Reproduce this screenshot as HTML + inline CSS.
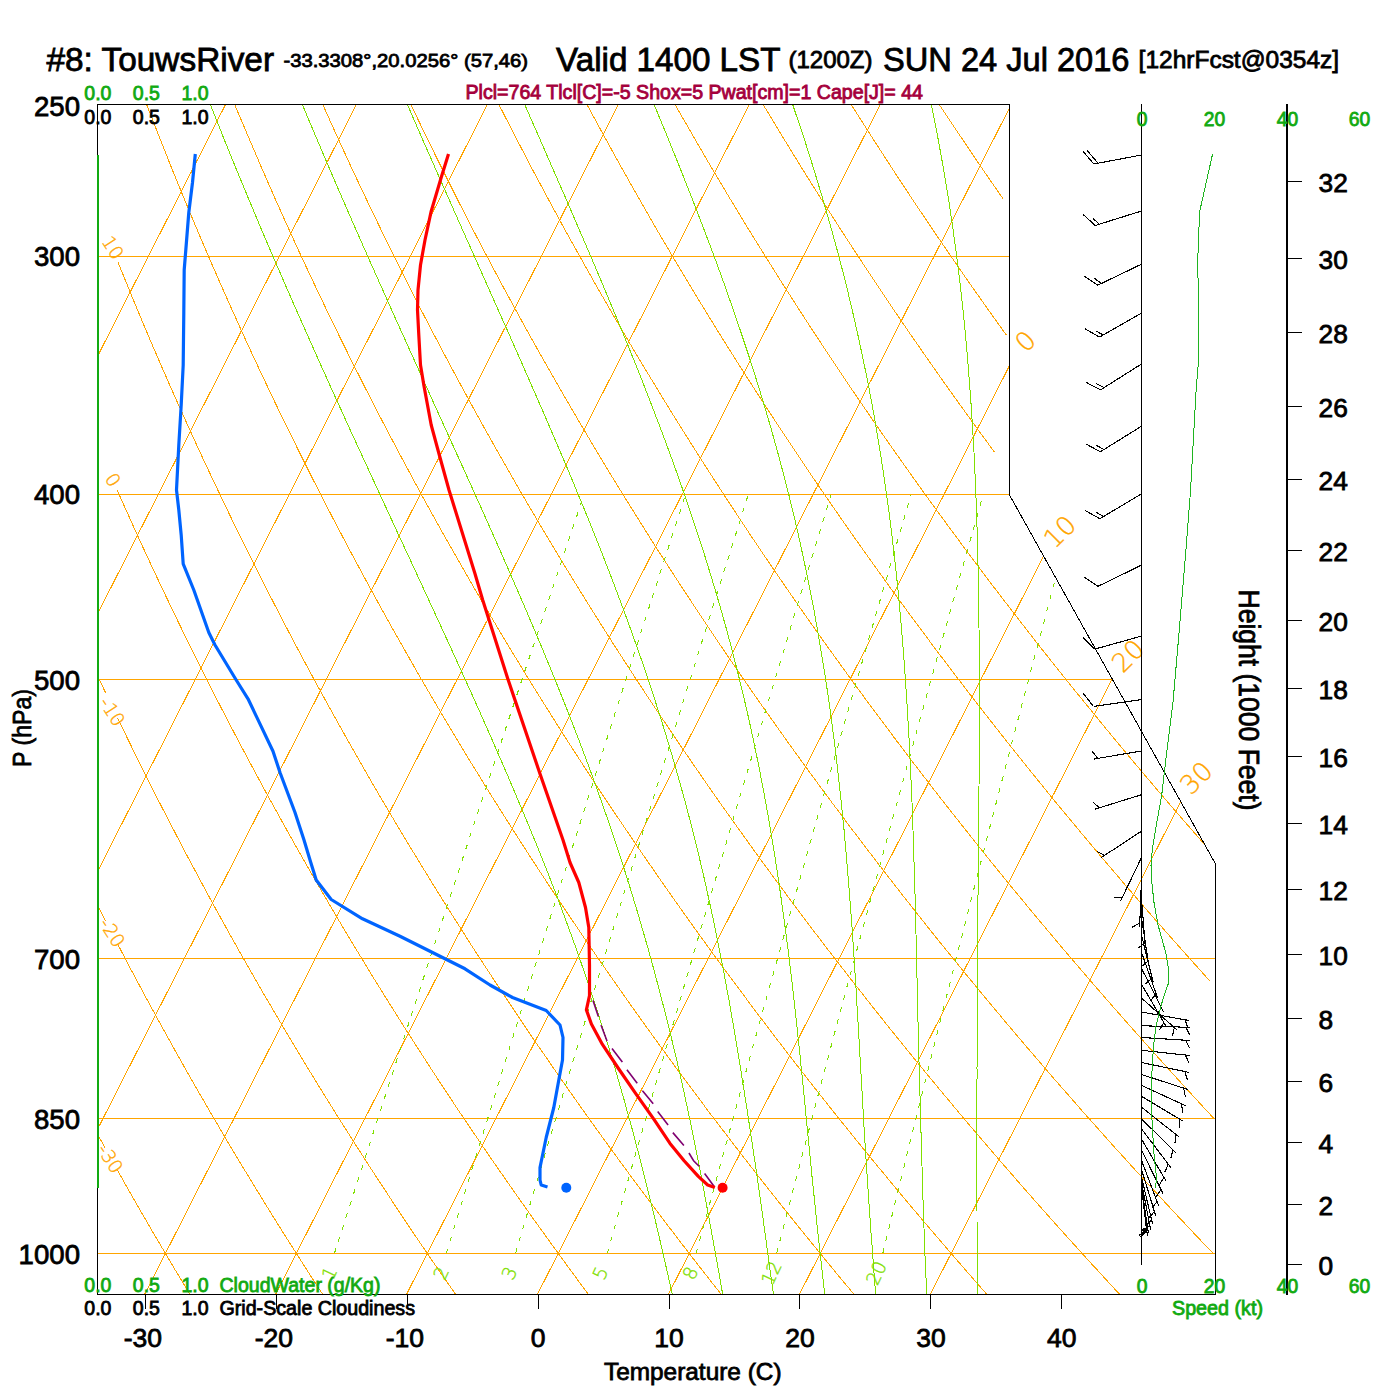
<!DOCTYPE html>
<html><head><meta charset="utf-8"><title>Skew-T TouwsRiver</title>
<style>html,body{margin:0;padding:0;background:#fff}svg{display:block}</style></head>
<body>
<svg width="1400" height="1400" viewBox="0 0 1400 1400" font-family="'Liberation Sans', sans-serif">
<defs><clipPath id="cp"><polygon points="97.5,1294.5 97.5,104.5 1009.4,104.5 1009.4,494.8 1215.5,863.9 1215.5,1294.5"/></clipPath></defs>
<g clip-path="url(#cp)" fill="none" stroke-width="1" shape-rendering="crispEdges">
<line x1="97.5" y1="256.4" x2="1217.5" y2="256.4" stroke="#ffa500"/>
<line x1="97.5" y1="494.7" x2="1217.5" y2="494.7" stroke="#ffa500"/>
<line x1="97.5" y1="679.5" x2="1217.5" y2="679.5" stroke="#ffa500"/>
<line x1="97.5" y1="958.1" x2="1217.5" y2="958.1" stroke="#ffa500"/>
<line x1="97.5" y1="1118.9" x2="1217.5" y2="1118.9" stroke="#ffa500"/>
<line x1="97.5" y1="1253.4" x2="1217.5" y2="1253.4" stroke="#ffa500"/>
<line x1="-1037.8" y1="1301.7" x2="-412.6" y2="71.7" stroke="#ffa500"/>
<line x1="-906.8" y1="1301.7" x2="-281.7" y2="71.7" stroke="#ffa500"/>
<line x1="-775.9" y1="1301.7" x2="-150.7" y2="71.7" stroke="#ffa500"/>
<line x1="-644.9" y1="1301.7" x2="-19.7" y2="71.7" stroke="#ffa500"/>
<line x1="-513.9" y1="1301.7" x2="111.2" y2="71.7" stroke="#ffa500"/>
<line x1="-383" y1="1301.7" x2="242.2" y2="71.7" stroke="#ffa500"/>
<line x1="-252" y1="1301.7" x2="373.1" y2="71.7" stroke="#ffa500"/>
<line x1="-121.1" y1="1301.7" x2="504.1" y2="71.7" stroke="#ffa500"/>
<line x1="9.9" y1="1301.7" x2="635.1" y2="71.7" stroke="#ffa500"/>
<line x1="140.9" y1="1301.7" x2="766" y2="71.7" stroke="#ffa500"/>
<line x1="271.8" y1="1301.7" x2="897" y2="71.7" stroke="#ffa500"/>
<line x1="402.8" y1="1301.7" x2="1027.9" y2="71.7" stroke="#ffa500"/>
<line x1="533.7" y1="1301.7" x2="1158.9" y2="71.7" stroke="#ffa500"/>
<line x1="664.7" y1="1301.7" x2="1289.8" y2="71.7" stroke="#ffa500"/>
<line x1="795.7" y1="1301.7" x2="1420.8" y2="71.7" stroke="#ffa500"/>
<line x1="926.6" y1="1301.7" x2="1551.8" y2="71.7" stroke="#ffa500"/>
<polyline points="194.4,1301.7 189.6,1293.8 184.8,1285.9 180,1277.9 175.1,1269.8 170.3,1261.7 165.4,1253.4 160.5,1245.1 155.5,1236.7 150.6,1228.2 145.6,1219.6 140.6,1211 135.6,1202.2 134.6,1200.4 133.6,1198.7 132.5,1196.9 131.5,1195.1 130.5,1193.3 129.5,1191.6 128.5,1189.8 127.5,1188 126.5,1186.2 125.4,1184.4 124.4,1182.6 123.4,1180.8 122.4,1179 121.4,1177.2 120.3,1175.3 119.3,1173.5 118.3,1171.7 117.3,1169.9" stroke="#ffa500"/>
<polyline points="105.4,1148.5 96.5,1132.4" stroke="#ffa500"/>
<polyline points="327.5,1301.7 322.4,1293.8 317.2,1285.9 312,1277.9 306.8,1269.8 301.6,1261.7 296.3,1253.4 291.1,1245.1 285.7,1236.7 280.4,1228.2 275,1219.6 269.7,1211 264.2,1202.2 258.8,1193.3 253.3,1184.4 247.8,1175.3 242.3,1166.2 236.7,1156.9 231.1,1147.6 225.5,1138.1 219.9,1128.5 214.2,1118.9 208.5,1109.1 202.7,1099.1 196.9,1089.1 191.1,1078.9 185.3,1068.7 179.4,1058.2 173.5,1047.7 167.6,1037 161.6,1026.2 155.6,1015.2 149.5,1004.1 143.4,992.8 137.3,981.4 136.1,979.1 134.9,976.8 133.6,974.5 132.4,972.2 131.1,969.8 129.9,967.5 128.7,965.2 127.4,962.8 126.2,960.4 124.9,958.1 123.7,955.7 122.5,953.3 121.2,951 120,948.6 118.7,946.2 117.5,943.8" stroke="#ffa500"/>
<polyline points="105.5,920.6 96.6,903.1" stroke="#ffa500"/>
<polyline points="460.7,1301.7 455.2,1293.8 449.7,1285.9 444.1,1277.9 438.5,1269.8 432.9,1261.7 427.3,1253.4 421.6,1245.1 415.9,1236.7 410.2,1228.2 404.5,1219.6 398.7,1211 392.9,1202.2 387.1,1193.3 381.2,1184.4 375.3,1175.3 369.3,1166.2 363.4,1156.9 357.4,1147.6 351.4,1138.1 345.3,1128.5 339.2,1118.9 333.1,1109.1 326.9,1099.1 320.7,1089.1 314.4,1078.9 308.2,1068.7 301.8,1058.2 295.5,1047.7 289.1,1037 282.7,1026.2 276.2,1015.2 269.7,1004.1 263.1,992.8 256.5,981.4 249.9,969.8 243.2,958.1 236.5,946.2 229.7,934.1 222.9,921.8 216,909.4 209.1,896.7 202.2,883.9 195.2,870.8 188.1,857.6 181,844.1 173.9,830.4 166.7,816.5 159.4,802.4 152.1,788 144.7,773.3 137.3,758.4 135.8,755.4 134.3,752.3 132.8,749.3 131.3,746.2 129.8,743.2 128.3,740.1 126.8,737 125.3,733.9 123.8,730.8 122.3,727.7 120.8,724.6 119.3,721.4 117.7,718.3" stroke="#ffa500"/>
<polyline points="105.5,692.6 96.2,672.8" stroke="#ffa500"/>
<polyline points="593.8,1301.7 588,1293.8 582.1,1285.9 576.2,1277.9 570.2,1269.8 564.3,1261.7 558.3,1253.4 552.2,1245.1 546.2,1236.7 540.1,1228.2 533.9,1219.6 527.8,1211 521.6,1202.2 515.3,1193.3 509.1,1184.4 502.8,1175.3 496.4,1166.2 490,1156.9 483.6,1147.6 477.2,1138.1 470.7,1128.5 464.2,1118.9 457.6,1109.1 451,1099.1 444.4,1089.1 437.7,1078.9 431,1068.7 424.3,1058.2 417.5,1047.7 410.6,1037 403.7,1026.2 396.8,1015.2 389.8,1004.1 382.8,992.8 375.7,981.4 368.6,969.8 361.5,958.1 354.3,946.2 347,934.1 339.7,921.8 332.3,909.4 324.9,896.7 317.4,883.9 309.9,870.8 302.3,857.6 294.7,844.1 287,830.4 279.3,816.5 271.5,802.4 263.6,788 255.7,773.3 247.7,758.4 239.6,743.2 231.5,727.7 223.3,711.9 215,695.9 206.7,679.5 198.3,662.7 189.8,645.7 181.3,628.2 172.7,610.4 164,592.2 155.2,573.6 146.3,554.6 137.4,535.1 135.6,531.1 133.8,527.2 132,523.2 130.2,519.2 128.4,515.1 126.5,511.1 124.7,507 122.9,502.9 121.1,498.8 119.2,494.7 117.4,490.5" stroke="#ffa500"/>
<polyline points="727,1301.7 720.8,1293.8 714.5,1285.9 708.3,1277.9 701.9,1269.8 695.6,1261.7 689.2,1253.4 682.8,1245.1 676.4,1236.7 669.9,1228.2 663.4,1219.6 656.8,1211 650.2,1202.2 643.6,1193.3 636.9,1184.4 630.2,1175.3 623.5,1166.2 616.7,1156.9 609.9,1147.6 603,1138.1 596.1,1128.5 589.2,1118.9 582.2,1109.1 575.2,1099.1 568.1,1089.1 561,1078.9 553.9,1068.7 546.7,1058.2 539.4,1047.7 532.1,1037 524.8,1026.2 517.4,1015.2 510,1004.1 502.5,992.8 495,981.4 487.4,969.8 479.7,958.1 472,946.2 464.3,934.1 456.5,921.8 448.6,909.4 440.7,896.7 432.7,883.9 424.7,870.8 416.6,857.6 408.4,844.1 400.2,830.4 391.9,816.5 383.5,802.4 375.1,788 366.6,773.3 358.1,758.4 349.4,743.2 340.7,727.7 331.9,711.9 323.1,695.9 314.1,679.5 305.1,662.7 296,645.7 286.8,628.2 277.6,610.4 268.2,592.2 258.7,573.6 249.2,554.6 239.6,535.1 229.8,515.1 220,494.7 210.1,473.7 200,452.2 189.9,430.1 179.7,407.4 169.3,384.1 158.8,360.1 148.2,335.4 137.5,309.9 135.4,304.7 133.2,299.5 131,294.2 128.9,288.9 126.7,283.6 124.5,278.2 122.3,272.8 120.1,267.4 117.9,262" stroke="#ffa500"/>
<polyline points="860.2,1301.7 853.6,1293.8 847,1285.9 840.3,1277.9 833.6,1269.8 826.9,1261.7 820.2,1253.4 813.4,1245.1 806.6,1236.7 799.7,1228.2 792.8,1219.6 785.9,1211 778.9,1202.2 771.9,1193.3 764.8,1184.4 757.7,1175.3 750.6,1166.2 743.4,1156.9 736.2,1147.6 728.9,1138.1 721.6,1128.5 714.2,1118.9 706.8,1109.1 699.4,1099.1 691.9,1089.1 684.3,1078.9 676.7,1068.7 669.1,1058.2 661.4,1047.7 653.7,1037 645.9,1026.2 638,1015.2 630.1,1004.1 622.2,992.8 614.2,981.4 606.1,969.8 598,958.1 589.8,946.2 581.6,934.1 573.3,921.8 564.9,909.4 556.5,896.7 548,883.9 539.4,870.8 530.8,857.6 522.1,844.1 513.3,830.4 504.5,816.5 495.6,802.4 486.6,788 477.6,773.3 468.4,758.4 459.2,743.2 449.9,727.7 440.5,711.9 431.1,695.9 421.5,679.5 411.9,662.7 402.2,645.7 392.3,628.2 382.4,610.4 372.4,592.2 362.3,573.6 352.1,554.6 341.8,535.1 331.3,515.1 320.8,494.7 310.1,473.7 299.4,452.2 288.5,430.1 277.4,407.4 266.3,384.1 255,360.1 243.6,335.4 232.1,309.9 220.4,283.6 208.5,256.4 196.6,228.4 184.4,199.3 172.1,169.2 159.7,137.9 147,105.5 134.2,71.7" stroke="#ffa500"/>
<polyline points="993.3,1301.7 986.4,1293.8 979.4,1285.9 972.4,1277.9 965.3,1269.8 958.3,1261.7 951.1,1253.4 944,1245.1 936.8,1236.7 929.5,1228.2 922.2,1219.6 914.9,1211 907.5,1202.2 900.1,1193.3 892.7,1184.4 885.2,1175.3 877.6,1166.2 870,1156.9 862.4,1147.6 854.7,1138.1 847,1128.5 839.2,1118.9 831.4,1109.1 823.5,1099.1 815.6,1089.1 807.6,1078.9 799.6,1068.7 791.5,1058.2 783.4,1047.7 775.2,1037 767,1026.2 758.6,1015.2 750.3,1004.1 741.9,992.8 733.4,981.4 724.8,969.8 716.2,958.1 707.6,946.2 698.8,934.1 690,921.8 681.2,909.4 672.2,896.7 663.2,883.9 654.2,870.8 645,857.6 635.8,844.1 626.5,830.4 617.1,816.5 607.7,802.4 598.1,788 588.5,773.3 578.8,758.4 569,743.2 559.1,727.7 549.2,711.9 539.1,695.9 528.9,679.5 518.7,662.7 508.3,645.7 497.9,628.2 487.3,610.4 476.6,592.2 465.9,573.6 455,554.6 443.9,535.1 432.8,515.1 421.5,494.7 410.2,473.7 398.7,452.2 387,430.1 375.2,407.4 363.3,384.1 351.2,360.1 339,335.4 326.6,309.9 314.1,283.6 301.3,256.4 288.5,228.4 275.4,199.3 262.2,169.2 248.8,137.9 235.1,105.5 221.3,71.7" stroke="#ffa500"/>
<polyline points="1126.5,1301.7 1119.2,1293.8 1111.8,1285.9 1104.5,1277.9 1097.1,1269.8 1089.6,1261.7 1082.1,1253.4 1074.6,1245.1 1067,1236.7 1059.3,1228.2 1051.7,1219.6 1044,1211 1036.2,1202.2 1028.4,1193.3 1020.5,1184.4 1012.7,1175.3 1004.7,1166.2 996.7,1156.9 988.7,1147.6 980.6,1138.1 972.4,1128.5 964.2,1118.9 956,1109.1 947.7,1099.1 939.3,1089.1 930.9,1078.9 922.5,1068.7 913.9,1058.2 905.4,1047.7 896.7,1037 888,1026.2 879.3,1015.2 870.4,1004.1 861.6,992.8 852.6,981.4 843.6,969.8 834.5,958.1 825.3,946.2 816.1,934.1 806.8,921.8 797.5,909.4 788,896.7 778.5,883.9 768.9,870.8 759.2,857.6 749.5,844.1 739.7,830.4 729.7,816.5 719.7,802.4 709.6,788 699.5,773.3 689.2,758.4 678.8,743.2 668.4,727.7 657.8,711.9 647.1,695.9 636.4,679.5 625.5,662.7 614.5,645.7 603.4,628.2 592.2,610.4 580.9,592.2 569.4,573.6 557.8,554.6 546.1,535.1 534.3,515.1 522.3,494.7 510.2,473.7 498,452.2 485.5,430.1 473,407.4 460.3,384.1 447.4,360.1 434.4,335.4 421.1,309.9 407.7,283.6 394.2,256.4 380.4,228.4 366.4,199.3 352.2,169.2 337.8,137.9 323.2,105.5 308.4,71.7" stroke="#ffa500"/>
<polyline points="1213.1,1253.4 1205.1,1245.1 1197.2,1236.7 1189.2,1228.2 1181.1,1219.6 1173,1211 1164.9,1202.2 1156.7,1193.3 1148.4,1184.4 1140.1,1175.3 1131.8,1166.2 1123.4,1156.9 1114.9,1147.6 1106.4,1138.1 1097.9,1128.5 1089.3,1118.9 1080.6,1109.1 1071.9,1099.1 1063.1,1089.1 1054.2,1078.9 1045.3,1068.7 1036.4,1058.2 1027.3,1047.7 1018.2,1037 1009.1,1026.2 999.9,1015.2 990.6,1004.1 981.2,992.8 971.8,981.4 962.3,969.8 952.8,958.1 943.1,946.2 933.4,934.1 923.6,921.8 913.8,909.4 903.8,896.7 893.8,883.9 883.7,870.8 873.5,857.6 863.2,844.1 852.8,830.4 842.4,816.5 831.8,802.4 821.2,788 810.4,773.3 799.6,758.4 788.6,743.2 777.6,727.7 766.4,711.9 755.1,695.9 743.8,679.5 732.3,662.7 720.7,645.7 708.9,628.2 697.1,610.4 685.1,592.2 673,573.6 660.7,554.6 648.3,535.1 635.8,515.1 623.1,494.7 610.2,473.7 597.3,452.2 584.1,430.1 570.8,407.4 557.3,384.1 543.6,360.1 529.7,335.4 515.7,309.9 501.4,283.6 487,256.4 472.3,228.4 457.4,199.3 442.3,169.2 426.9,137.9 411.3,105.5 395.5,71.7" stroke="#ffa500"/>
<polyline points="1214.3,1118.9 1205.2,1109.1 1196,1099.1 1186.8,1089.1 1177.5,1078.9 1168.2,1068.7 1158.8,1058.2 1149.3,1047.7 1139.8,1037 1130.2,1026.2 1120.5,1015.2 1110.7,1004.1 1100.9,992.8 1091,981.4 1081.1,969.8 1071,958.1 1060.9,946.2 1050.7,934.1 1040.4,921.8 1030,909.4 1019.6,896.7 1009,883.9 998.4,870.8 987.7,857.6 976.9,844.1 966,830.4 955,816.5 943.9,802.4 932.7,788 921.4,773.3 909.9,758.4 898.4,743.2 886.8,727.7 875,711.9 863.2,695.9 851.2,679.5 839.1,662.7 826.8,645.7 814.4,628.2 801.9,610.4 789.3,592.2 776.5,573.6 763.6,554.6 750.5,535.1 737.3,515.1 723.9,494.7 710.3,473.7 696.6,452.2 682.6,430.1 668.5,407.4 654.3,384.1 639.8,360.1 625.1,335.4 610.2,309.9 595.1,283.6 579.8,256.4 564.2,228.4 548.4,199.3 532.3,169.2 516,137.9 499.4,105.5 482.5,71.7" stroke="#ffa500"/>
<polyline points="1210.2,981.4 1199.8,969.8 1189.3,958.1 1178.7,946.2 1168,934.1 1157.2,921.8 1146.3,909.4 1135.4,896.7 1124.3,883.9 1113.2,870.8 1101.9,857.6 1090.6,844.1 1079.1,830.4 1067.6,816.5 1055.9,802.4 1044.2,788 1032.3,773.3 1020.3,758.4 1008.2,743.2 996,727.7 983.6,711.9 971.2,695.9 958.6,679.5 945.8,662.7 933,645.7 920,628.2 906.8,610.4 893.5,592.2 880.1,573.6 866.5,554.6 852.7,535.1 838.7,515.1 824.6,494.7 810.3,473.7 795.9,452.2 781.2,430.1 766.3,407.4 751.3,384.1 736,360.1 720.5,335.4 704.8,309.9 688.8,283.6 672.6,256.4 656.1,228.4 639.4,199.3 622.4,169.2 605.1,137.9 587.5,105.5 569.6,71.7" stroke="#ffa500"/>
<polyline points="1204.3,844.1 1192.3,830.4 1180.2,816.5 1168,802.4 1155.7,788 1143.2,773.3 1130.7,758.4 1118,743.2 1105.2,727.7 1092.3,711.9 1079.2,695.9 1066,679.5 1052.6,662.7 1039.1,645.7 1025.5,628.2 1011.7,610.4 997.7,592.2 983.6,573.6 969.3,554.6 954.9,535.1 940.2,515.1 925.4,494.7 910.4,473.7 895.2,452.2 879.7,430.1 864.1,407.4 848.2,384.1 832.2,360.1 815.9,335.4 799.3,309.9 782.5,283.6 765.4,256.4 748,228.4 730.4,199.3 712.4,169.2 694.2,137.9 675.6,105.5 656.7,71.7" stroke="#ffa500"/>
<polyline points="994.5,452.2 978.3,430.1 961.9,407.4 945.2,384.1 928.4,360.1 911.2,335.4 893.8,309.9 876.2,283.6 858.2,256.4 840,228.4 821.4,199.3 802.5,169.2 783.3,137.9 763.7,105.5 743.7,71.7" stroke="#ffa500"/>
<polyline points="1006.6,335.4 988.4,309.9 969.8,283.6 951,256.4 931.9,228.4 912.4,199.3 892.6,169.2 872.4,137.9 851.8,105.5 830.8,71.7" stroke="#ffa500"/>
<polyline points="1003.4,199.3 982.6,169.2 961.5,137.9 939.9,105.5 917.9,71.7" stroke="#ffa500"/>
<polyline points="674,1301.7 672.2,1293.8 670.4,1285.9 668.6,1277.9 666.8,1269.8 664.9,1261.7 663,1253.4 661.1,1245.1 659.1,1236.7 657.1,1228.2 655.1,1219.6 653,1211 650.8,1202.2 648.7,1193.3 646.4,1184.4 644.2,1175.3 641.8,1166.2 639.5,1156.9 637,1147.6 634.5,1138.1 632,1128.5 629.3,1118.9 626.6,1109.1 623.9,1099.1 621,1089.1 618.1,1078.9 615.1,1068.7 612,1058.2 608.8,1047.7 605.5,1037 602.1,1026.2 598.6,1015.2 595,1004.1 591.3,992.8 587.5,981.4 583.5,969.8 579.5,958.1 575.3,946.2 570.9,934.1 566.4,921.8 561.8,909.4 557.1,896.7 552.1,883.9 547,870.8 541.7,857.6 536.3,844.1 530.7,830.4 524.9,816.5 519,802.4 512.9,788 506.7,773.3 500.2,758.4 493.6,743.2 486.8,727.7 479.8,711.9 472.6,695.9 465.2,679.5 457.6,662.7 449.8,645.7 441.8,628.2 433.6,610.4 425.2,592.2 416.6,573.6 407.8,554.6 398.7,535.1 389.5,515.1 380,494.7 370.4,473.7 360.5,452.2 350.3,430.1 340,407.4 329.4,384.1 318.6,360.1 307.6,335.4 296.3,309.9 284.8,283.6 273,256.4 261,228.4 248.8,199.3 236.3,169.2 223.6,137.9 210.7,105.5 197.5,71.7" stroke="#80e000"/>
<polyline points="724,1301.7 722.6,1293.8 721.2,1285.9 719.8,1277.9 718.4,1269.8 716.9,1261.7 715.4,1253.4 713.9,1245.1 712.4,1236.7 710.8,1228.2 709.3,1219.6 707.7,1211 706,1202.2 704.4,1193.3 702.7,1184.4 701,1175.3 699.2,1166.2 697.4,1156.9 695.5,1147.6 693.6,1138.1 691.7,1128.5 689.7,1118.9 687.6,1109.1 685.5,1099.1 683.3,1089.1 681.1,1078.9 678.7,1068.7 676.3,1058.2 673.7,1047.7 671.2,1037 668.5,1026.2 665.8,1015.2 662.9,1004.1 660,992.8 657,981.4 653.9,969.8 650.7,958.1 647.4,946.2 643.9,934.1 640.3,921.8 636.7,909.4 632.8,896.7 628.9,883.9 624.8,870.8 620.5,857.6 616.1,844.1 611.5,830.4 606.7,816.5 601.8,802.4 596.6,788 591.3,773.3 585.8,758.4 580.1,743.2 574.1,727.7 568,711.9 561.6,695.9 555,679.5 548.1,662.7 541.1,645.7 533.7,628.2 526.2,610.4 518.3,592.2 510.2,573.6 501.9,554.6 493.3,535.1 484.4,515.1 475.2,494.7 465.8,473.7 456,452.2 446,430.1 435.7,407.4 425.2,384.1 414.3,360.1 403.1,335.4 391.6,309.9 379.9,283.6 367.8,256.4 355.4,228.4 342.7,199.3 329.7,169.2 316.4,137.9 302.7,105.5 288.7,71.7" stroke="#80e000"/>
<polyline points="774.5,1301.7 773.4,1293.8 772.3,1285.9 771.2,1277.9 770,1269.8 768.9,1261.7 767.8,1253.4 766.7,1245.1 765.5,1236.7 764.3,1228.2 763.2,1219.6 762,1211 760.7,1202.2 759.5,1193.3 758.2,1184.4 756.9,1175.3 755.6,1166.2 754.2,1156.9 752.8,1147.6 751.4,1138.1 749.9,1128.5 748.5,1118.9 747,1109.1 745.4,1099.1 743.8,1089.1 742.2,1078.9 740.6,1068.7 738.9,1058.2 737.2,1047.7 735.4,1037 733.5,1026.2 731.6,1015.2 729.7,1004.1 727.6,992.8 725.5,981.4 723.4,969.8 721.1,958.1 718.7,946.2 716.3,934.1 713.8,921.8 711.1,909.4 708.3,896.7 705.5,883.9 702.5,870.8 699.3,857.6 696,844.1 692.6,830.4 689,816.5 685.3,802.4 681.3,788 677.2,773.3 672.9,758.4 668.4,743.2 663.7,727.7 658.7,711.9 653.6,695.9 648.1,679.5 642.5,662.7 636.5,645.7 630.3,628.2 623.8,610.4 617,592.2 609.9,573.6 602.5,554.6 594.8,535.1 586.7,515.1 578.3,494.7 569.6,473.7 560.5,452.2 551,430.1 541.2,407.4 531,384.1 520.5,360.1 509.6,335.4 498.2,309.9 486.5,283.6 474.4,256.4 461.9,228.4 449,199.3 435.7,169.2 421.9,137.9 407.8,105.5 393.2,71.7" stroke="#80e000"/>
<polyline points="825.5,1301.7 824.6,1293.8 823.8,1285.9 822.9,1277.9 822,1269.8 821.1,1261.7 820.2,1253.4 819.2,1245.1 818.3,1236.7 817.4,1228.2 816.5,1219.6 815.6,1211 814.7,1202.2 813.8,1193.3 812.8,1184.4 811.9,1175.3 811,1166.2 810.1,1156.9 809.2,1147.6 808.2,1138.1 807.3,1128.5 806.3,1118.9 805.4,1109.1 804.4,1099.1 803.4,1089.1 802.4,1078.9 801.3,1068.7 800.3,1058.2 799.2,1047.7 798,1037 796.9,1026.2 795.7,1015.2 794.5,1004.1 793.2,992.8 791.9,981.4 790.5,969.8 789.1,958.1 787.6,946.2 786,934.1 784.4,921.8 782.7,909.4 780.9,896.7 779.1,883.9 777.1,870.8 775.1,857.6 772.9,844.1 770.6,830.4 768.2,816.5 765.7,802.4 763,788 760.2,773.3 757.2,758.4 754.1,743.2 750.7,727.7 747.2,711.9 743.5,695.9 739.5,679.5 735.3,662.7 730.9,645.7 726.2,628.2 721.2,610.4 715.9,592.2 710.3,573.6 704.4,554.6 698.1,535.1 691.5,515.1 684.5,494.7 677.2,473.7 669.4,452.2 661.2,430.1 652.5,407.4 643.5,384.1 633.9,360.1 623.9,335.4 613.3,309.9 602.3,283.6 590.8,256.4 578.7,228.4 566.2,199.3 553,169.2 539.4,137.9 525.1,105.5 510.3,71.7" stroke="#80e000"/>
<polyline points="876.3,1301.7 875.7,1293.8 875,1285.9 874.4,1277.9 873.8,1269.8 873.2,1261.7 872.6,1253.4 872,1245.1 871.3,1236.7 870.7,1228.2 870.1,1219.6 869.5,1211 868.9,1202.2 868.3,1193.3 867.7,1184.4 867.1,1175.3 866.5,1166.2 865.9,1156.9 865.3,1147.6 864.7,1138.1 864.1,1128.5 863.6,1118.9 863,1109.1 862.4,1099.1 861.9,1089.1 861.3,1078.9 860.7,1068.7 860.1,1058.2 859.5,1047.7 858.9,1037 858.3,1026.2 857.6,1015.2 856.9,1004.1 856.3,992.8 855.6,981.4 854.8,969.8 854.1,958.1 853.3,946.2 852.5,934.1 851.6,921.8 850.7,909.4 849.7,896.7 848.7,883.9 847.6,870.8 846.5,857.6 845.3,844.1 844.1,830.4 842.7,816.5 841.3,802.4 839.7,788 838.1,773.3 836.4,758.4 834.5,743.2 832.5,727.7 830.4,711.9 828.1,695.9 825.7,679.5 823,662.7 820.2,645.7 817.2,628.2 814,610.4 810.5,592.2 806.7,573.6 802.7,554.6 798.4,535.1 793.8,515.1 788.8,494.7 783.4,473.7 777.7,452.2 771.5,430.1 764.9,407.4 757.8,384.1 750.2,360.1 742,335.4 733.3,309.9 724.1,283.6 714.2,256.4 703.6,228.4 692.4,199.3 680.5,169.2 667.9,137.9 654.5,105.5 640.4,71.7" stroke="#80e000"/>
<polyline points="927,1301.7 926.7,1293.8 926.3,1285.9 926,1277.9 925.6,1269.8 925.3,1261.7 924.9,1253.4 924.6,1245.1 924.3,1236.7 924,1228.2 923.7,1219.6 923.4,1211 923.1,1202.2 922.8,1193.3 922.5,1184.4 922.3,1175.3 922,1166.2 921.7,1156.9 921.4,1147.6 921.2,1138.1 920.9,1128.5 920.6,1118.9 920.3,1109.1 920.1,1099.1 919.8,1089.1 919.5,1078.9 919.2,1068.7 918.9,1058.2 918.6,1047.7 918.4,1037 918.1,1026.2 917.9,1015.2 917.6,1004.1 917.3,992.8 917.1,981.4 916.8,969.8 916.6,958.1 916.3,946.2 916,934.1 915.7,921.8 915.4,909.4 915.1,896.7 914.7,883.9 914.3,870.8 913.9,857.6 913.5,844.1 913,830.4 912.5,816.5 912,802.4 911.4,788 910.7,773.3 910,758.4 909.3,743.2 908.4,727.7 907.5,711.9 906.5,695.9 905.4,679.5 904.2,662.7 902.9,645.7 901.5,628.2 899.9,610.4 898.2,592.2 896.3,573.6 894.2,554.6 891.9,535.1 889.4,515.1 886.6,494.7 883.6,473.7 880.2,452.2 876.6,430.1 872.6,407.4 868.2,384.1 863.3,360.1 858,335.4 852.2,309.9 845.9,283.6 838.9,256.4 831.2,228.4 822.9,199.3 813.8,169.2 803.9,137.9 793,105.5 781.3,71.7" stroke="#80e000"/>
<polyline points="978.1,1301.7 977.9,1293.8 977.8,1285.9 977.7,1277.9 977.5,1269.8 977.4,1261.7 977.3,1253.4 977.2,1245.1 977.1,1236.7 977.1,1228.2 977,1219.6 977,1211 976.9,1202.2 976.9,1193.3 976.8,1184.4 976.8,1175.3 976.8,1166.2 976.8,1156.9 976.8,1147.6 976.8,1138.1 976.8,1128.5 976.8,1118.9 976.9,1109.1 976.9,1099.1 976.9,1089.1 977,1078.9 977,1068.7 977.1,1058.2 977.1,1047.7 977.2,1037 977.2,1026.2 977.3,1015.2 977.3,1004.1 977.4,992.8 977.4,981.4 977.5,969.8 977.5,958.1 977.6,946.2 977.6,934.1 977.7,921.8 977.9,909.4 978,896.7 978.1,883.9 978.2,870.8 978.3,857.6 978.5,844.1 978.6,830.4 978.7,816.5 978.8,802.4 979,788 979.1,773.3 979.2,758.4 979.2,743.2 979.3,727.7 979.3,711.9 979.4,695.9 979.3,679.5 979.3,662.7 979.2,645.7 979,628.2 978.8,610.4 978.6,592.2 978.2,573.6 977.8,554.6 977.3,535.1 976.6,515.1 975.9,494.7 975,473.7 974,452.2 972.7,430.1 971.3,407.4 969.6,384.1 967.7,360.1 965.5,335.4 963,309.9 960.1,283.6 956.7,256.4 952.9,228.4 948.6,199.3 943.6,169.2 937.9,137.9 931.5,105.5 924.2,71.7" stroke="#80e000"/>
<polyline points="334.4,1253.4 339.8,1236.7 345.3,1219.6 350.9,1202.2 356.6,1184.4 362.5,1166.2 368.5,1147.6 374.6,1128.5 380.9,1109.1 387.4,1089.1 394,1068.7 400.8,1047.7 407.8,1026.2 415,1004.1 422.4,981.4 430,958.1 437.9,934.1 446,909.4 454.4,883.9 463,857.6 472,830.4 481.3,802.4 490.9,773.3 500.8,743.2 511.2,711.9 522,679.5 533.3,645.7 545.1,610.4 557.4,573.6 570.4,535.1 584,494.7" stroke="#80e000" stroke-dasharray="5 7.5"/>
<polyline points="446.2,1253.4 451.3,1236.7 456.5,1219.6 461.9,1202.2 467.4,1184.4 473,1166.2 478.7,1147.6 484.6,1128.5 490.6,1109.1 496.8,1089.1 503.1,1068.7 509.6,1047.7 516.3,1026.2 523.2,1004.1 530.3,981.4 537.6,958.1 545.1,934.1 552.9,909.4 560.9,883.9 569.2,857.6 577.8,830.4 586.7,802.4 596,773.3 605.5,743.2 615.5,711.9 625.9,679.5 636.7,645.7 648.1,610.4 659.9,573.6 672.4,535.1 685.5,494.7" stroke="#80e000" stroke-dasharray="5 7.5"/>
<polyline points="515.5,1253.4 520.4,1236.7 525.5,1219.6 530.7,1202.2 536,1184.4 541.4,1166.2 547,1147.6 552.7,1128.5 558.6,1109.1 564.6,1089.1 570.7,1068.7 577,1047.7 583.6,1026.2 590.2,1004.1 597.1,981.4 604.2,958.1 611.6,934.1 619.1,909.4 626.9,883.9 635,857.6 643.3,830.4 652,802.4 661,773.3 670.3,743.2 680,711.9 690.1,679.5 700.7,645.7 711.7,610.4 723.3,573.6 735.5,535.1 748.2,494.7" stroke="#80e000" stroke-dasharray="5 7.5"/>
<polyline points="607.2,1253.4 612,1236.7 616.8,1219.6 621.8,1202.2 626.9,1184.4 632.1,1166.2 637.4,1147.6 642.9,1128.5 648.5,1109.1 654.2,1089.1 660.1,1068.7 666.2,1047.7 672.5,1026.2 678.9,1004.1 685.5,981.4 692.3,958.1 699.3,934.1 706.6,909.4 714.1,883.9 721.9,857.6 729.9,830.4 738.2,802.4 746.9,773.3 755.9,743.2 765.2,711.9 775,679.5 785.2,645.7 795.8,610.4 807,573.6 818.7,535.1 831,494.7" stroke="#80e000" stroke-dasharray="5 7.5"/>
<polyline points="696.2,1253.4 700.7,1236.7 705.4,1219.6 710.1,1202.2 715,1184.4 720,1166.2 725.1,1147.6 730.3,1128.5 735.7,1109.1 741.2,1089.1 746.8,1068.7 752.6,1047.7 758.6,1026.2 764.8,1004.1 771.1,981.4 777.7,958.1 784.4,934.1 791.4,909.4 798.6,883.9 806,857.6 813.7,830.4 821.7,802.4 830.1,773.3 838.7,743.2 847.7,711.9 857.1,679.5 866.9,645.7 877.1,610.4 887.9,573.6 899.2,535.1 911.1,494.7" stroke="#80e000" stroke-dasharray="5 7.5"/>
<polyline points="776.6,1253.4 781,1236.7 785.4,1219.6 789.9,1202.2 794.6,1184.4 799.4,1166.2 804.2,1147.6 809.3,1128.5 814.4,1109.1 819.7,1089.1 825.1,1068.7 830.7,1047.7 836.4,1026.2 842.3,1004.1 848.4,981.4 854.7,958.1 861.2,934.1 867.9,909.4 874.8,883.9 882,857.6 889.4,830.4 897.1,802.4 905.1,773.3 913.4,743.2 922.1,711.9 931.1,679.5 940.6,645.7 950.5,610.4 960.8,573.6 971.7,535.1 983.2,494.7" stroke="#80e000" stroke-dasharray="5 7.5"/>
<polyline points="882.8,1253.4 886.8,1236.7 891,1219.6 895.3,1202.2 899.6,1184.4 904.1,1166.2 908.7,1147.6 913.4,1128.5 918.2,1109.1 923.2,1089.1 928.3,1068.7 933.6,1047.7 939,1026.2 944.6,1004.1 950.3,981.4 956.2,958.1 962.4,934.1 968.7,909.4 975.2,883.9 982,857.6 989,830.4 996.3,802.4 1003.9,773.3 1011.8,743.2 1020,711.9 1028.6,679.5 1037.6,645.7 1047,610.4 1056.8,573.6 1067.2,535.1 1078.1,494.7" stroke="#80e000" stroke-dasharray="5 7.5"/>
</g>
<polygon points="97.5,1294.5 97.5,104.5 1009.4,104.5 1009.4,494.8 1215.5,863.9 1215.5,1294.5" fill="none" stroke="#000" stroke-width="1" shape-rendering="crispEdges"/>
<text transform="translate(110.5 1158.5) rotate(57)" font-family="'DejaVu Sans Light', 'DejaVu Sans', 'Liberation Sans', sans-serif" font-weight="200" font-size="18.5" text-anchor="middle" dy="6.8" fill="#ffa500" stroke="#ffa500" stroke-width="0.35">-30</text>
<text transform="translate(112.5 932.5) rotate(57)" font-family="'DejaVu Sans Light', 'DejaVu Sans', 'Liberation Sans', sans-serif" font-weight="200" font-size="18.5" text-anchor="middle" dy="6.8" fill="#ffa500" stroke="#ffa500" stroke-width="0.35">-20</text>
<text transform="translate(112.5 711.5) rotate(57)" font-family="'DejaVu Sans Light', 'DejaVu Sans', 'Liberation Sans', sans-serif" font-weight="200" font-size="18.5" text-anchor="middle" dy="6.8" fill="#ffa500" stroke="#ffa500" stroke-width="0.35">-10</text>
<text transform="translate(113.2 479.8) rotate(57)" font-family="'DejaVu Sans Light', 'DejaVu Sans', 'Liberation Sans', sans-serif" font-weight="200" font-size="18.5" text-anchor="middle" dy="6.8" fill="#ffa500" stroke="#ffa500" stroke-width="0.35">0</text>
<text transform="translate(113 247.5) rotate(57)" font-family="'DejaVu Sans Light', 'DejaVu Sans', 'Liberation Sans', sans-serif" font-weight="200" font-size="18.5" text-anchor="middle" dy="6.8" fill="#ffa500" stroke="#ffa500" stroke-width="0.35">10</text>
<text transform="translate(1025.1 341) rotate(-45)" font-family="'DejaVu Sans Light', 'DejaVu Sans', 'Liberation Sans', sans-serif" font-weight="200" font-size="26" text-anchor="middle" dy="9.4" fill="#ffa500" stroke="#ffa500" stroke-width="0.35">0</text>
<text transform="translate(1059.6 531.5) rotate(-45)" font-family="'DejaVu Sans Light', 'DejaVu Sans', 'Liberation Sans', sans-serif" font-weight="200" font-size="26" text-anchor="middle" dy="9.4" fill="#ffa500" stroke="#ffa500" stroke-width="0.35">10</text>
<text transform="translate(1127.9 655.7) rotate(-45)" font-family="'DejaVu Sans Light', 'DejaVu Sans', 'Liberation Sans', sans-serif" font-weight="200" font-size="26" text-anchor="middle" dy="9.4" fill="#ffa500" stroke="#ffa500" stroke-width="0.35">20</text>
<text transform="translate(1196.1 777.6) rotate(-45)" font-family="'DejaVu Sans Light', 'DejaVu Sans', 'Liberation Sans', sans-serif" font-weight="200" font-size="26" text-anchor="middle" dy="9.4" fill="#ffa500" stroke="#ffa500" stroke-width="0.35">30</text>
<text transform="translate(329 1273.0) rotate(-65)" font-family="'DejaVu Sans Light', 'DejaVu Sans', 'Liberation Sans', sans-serif" font-weight="200" font-size="18.5" text-anchor="middle" dy="6.8" fill="#80e000" stroke="#80e000" stroke-width="0.35">1</text>
<text transform="translate(440.9 1273.0) rotate(-65)" font-family="'DejaVu Sans Light', 'DejaVu Sans', 'Liberation Sans', sans-serif" font-weight="200" font-size="18.5" text-anchor="middle" dy="6.8" fill="#80e000" stroke="#80e000" stroke-width="0.35">2</text>
<text transform="translate(509.1 1273.0) rotate(-65)" font-family="'DejaVu Sans Light', 'DejaVu Sans', 'Liberation Sans', sans-serif" font-weight="200" font-size="18.5" text-anchor="middle" dy="6.8" fill="#80e000" stroke="#80e000" stroke-width="0.35">3</text>
<text transform="translate(600 1273.0) rotate(-65)" font-family="'DejaVu Sans Light', 'DejaVu Sans', 'Liberation Sans', sans-serif" font-weight="200" font-size="18.5" text-anchor="middle" dy="6.8" fill="#80e000" stroke="#80e000" stroke-width="0.35">5</text>
<text transform="translate(690 1273.0) rotate(-65)" font-family="'DejaVu Sans Light', 'DejaVu Sans', 'Liberation Sans', sans-serif" font-weight="200" font-size="18.5" text-anchor="middle" dy="6.8" fill="#80e000" stroke="#80e000" stroke-width="0.35">8</text>
<text transform="translate(771 1273.0) rotate(-65)" font-family="'DejaVu Sans Light', 'DejaVu Sans', 'Liberation Sans', sans-serif" font-weight="200" font-size="18.5" text-anchor="middle" dy="6.8" fill="#80e000" stroke="#80e000" stroke-width="0.35">12</text>
<text transform="translate(876 1273.0) rotate(-65)" font-family="'DejaVu Sans Light', 'DejaVu Sans', 'Liberation Sans', sans-serif" font-weight="200" font-size="18.5" text-anchor="middle" dy="6.8" fill="#80e000" stroke="#80e000" stroke-width="0.35">20</text>
<line x1="98" y1="155" x2="98" y2="1188" stroke="#11aa11" stroke-width="2" shape-rendering="crispEdges"/>
<polyline points="593,1000.4 598.5,1017 601.2,1025.6 607.1,1041.3 611.9,1048.4 622.1,1061.7 626.8,1069.6 637,1082.9 642.5,1090.8 653.5,1104.1 657.4,1111.2 668.4,1125.4 672.4,1132.1 684.1,1145.8 688.9,1152.9 693.6,1160.7 699.1,1166.2 704.6,1173.6 714.8,1187.4" fill="none" stroke="#800070" stroke-width="1.6" stroke-dasharray="17 9"/>
<polyline points="195.3,154 192.5,182.5 188.8,212.5 185.8,250 184.2,270 183.8,312.5 183.2,365 181.2,405 178.8,445 176.5,490 178.8,510 181.2,535 183.2,563.8 193.8,590 208.8,632.5 215,645 236.2,680 248,698.8 273,751.2 280,772.5 295,812.5 304,840 310,860 316.2,880 331.2,899.5 362.5,918.8 400,936.2 445,958.8 465,968.8 490,985 512.5,997.5 546.2,1010.5 560,1025 563,1037.5 562.5,1060 558.8,1080 553.8,1107.5 546.2,1137.5 540,1167.5 540,1180 541.2,1185 547.5,1187" fill="none" stroke="#0064ff" stroke-width="3.2" stroke-linejoin="round"/>
<polyline points="448.5,154 441.2,177.5 431.2,211.2 425,240 420.5,265 418,290 417.5,310 418.8,335 420.5,365 423.8,385 431.2,425 440,457.5 449,490 475,573.8 482.7,600 507.7,678.6 539.8,773.2 563,840 570,862.5 578.8,882.5 585.5,907.5 588.8,927.5 589.5,965 589.5,995.7 586.4,1009.9 591.4,1024 602.4,1044.4 618.1,1068 635.4,1093.1 654.3,1119.9 670,1143.4 684.1,1160.7 698.3,1176.4 707.7,1185 714.8,1187.4" fill="none" stroke="#ff0000" stroke-width="3.2" stroke-linejoin="round"/>
<circle cx="566.3" cy="1187.7" r="5" fill="#0064ff"/>
<circle cx="722.6" cy="1187.7" r="5" fill="#ff0000"/>
<g stroke="#000" stroke-width="1.1" fill="none" shape-rendering="crispEdges">
<line x1="1141.5" y1="104" x2="1141.5" y2="1264.5" stroke-width="1.2"/>
<line x1="1141.5" y1="155" x2="1093.8" y2="164"/>
<line x1="1093.8" y1="164" x2="1083" y2="151.4"/>
<line x1="1098.1" y1="163.2" x2="1087.2" y2="150.6"/>
<line x1="1141.5" y1="211" x2="1095.2" y2="225.5"/>
<line x1="1095.2" y1="225.5" x2="1083" y2="214.3"/>
<line x1="1099.3" y1="224.2" x2="1092.8" y2="218.3"/>
<line x1="1141.5" y1="264.2" x2="1097.8" y2="285.2"/>
<line x1="1097.8" y1="285.2" x2="1084.1" y2="275.9"/>
<line x1="1101.7" y1="283.4" x2="1094.4" y2="278.4"/>
<line x1="1141.5" y1="313.1" x2="1099.4" y2="337.1"/>
<line x1="1099.4" y1="337.1" x2="1085" y2="328.8"/>
<line x1="1103.1" y1="335" x2="1095.5" y2="330.6"/>
<line x1="1141.5" y1="364" x2="1100.5" y2="389.9"/>
<line x1="1100.5" y1="389.9" x2="1085.8" y2="382.2"/>
<line x1="1104.1" y1="387.6" x2="1096.3" y2="383.5"/>
<line x1="1141.5" y1="426.2" x2="1100.3" y2="451.8"/>
<line x1="1100.3" y1="451.8" x2="1085.7" y2="443.9"/>
<line x1="1103.9" y1="449.5" x2="1096.2" y2="445.3"/>
<line x1="1141.5" y1="493.9" x2="1099.8" y2="518.7"/>
<line x1="1099.8" y1="518.7" x2="1085.3" y2="510.6"/>
<line x1="1103.5" y1="516.5" x2="1095.9" y2="512.2"/>
<line x1="1141.5" y1="565.1" x2="1097.9" y2="586.4"/>
<line x1="1097.9" y1="586.4" x2="1084.1" y2="577.1"/>
<line x1="1141.5" y1="636.1" x2="1094.8" y2="649.1"/>
<line x1="1094.8" y1="649.1" x2="1082.9" y2="637.4"/>
<line x1="1141.5" y1="699.6" x2="1093.5" y2="706.4"/>
<line x1="1093.5" y1="706.4" x2="1083.2" y2="693.4"/>
<line x1="1141.5" y1="751" x2="1093.7" y2="759.1"/>
<line x1="1097.9" y1="758.4" x2="1092.3" y2="751.6"/>
<line x1="1141.5" y1="794.7" x2="1095.2" y2="809.1"/>
<line x1="1099.3" y1="807.8" x2="1092.8" y2="801.9"/>
<line x1="1141.5" y1="831.2" x2="1100.9" y2="857.8"/>
<line x1="1104.5" y1="855.4" x2="1096.7" y2="851.4"/>
<line x1="1141.5" y1="857.5" x2="1120.5" y2="901.2"/>
<line x1="1122.4" y1="897.4" x2="1113.6" y2="898"/>
<line x1="1141.5" y1="879" x2="1139.6" y2="927.5"/>
<line x1="1139.7" y1="923.2" x2="1131.9" y2="927.3"/>
<line x1="1141.5" y1="899" x2="1145.4" y2="947.3"/>
<line x1="1145" y1="943.1" x2="1137.8" y2="948.1"/>
<line x1="1141.5" y1="917.5" x2="1148.8" y2="965.5"/>
<line x1="1148.1" y1="961.2" x2="1141.2" y2="966.7"/>
<line x1="1141.5" y1="935" x2="1153.1" y2="982.1"/>
<line x1="1152" y1="977.9" x2="1145.7" y2="984"/>
<line x1="1141.5" y1="952.3" x2="1157.6" y2="998"/>
<line x1="1156.2" y1="994" x2="1150.5" y2="1000.7"/>
<line x1="1141.5" y1="968.3" x2="1163.4" y2="1011.6"/>
<line x1="1161.4" y1="1007.8" x2="1156.6" y2="1015.1"/>
<line x1="1141.5" y1="984.3" x2="1166" y2="1026.2"/>
<line x1="1163.8" y1="1022.5" x2="1159.4" y2="1030.1"/>
<line x1="1141.5" y1="998" x2="1177.5" y2="1030.5"/>
<line x1="1174.3" y1="1027.6" x2="1172.5" y2="1036.2"/>
<line x1="1141.5" y1="1012" x2="1189.2" y2="1020.5"/>
<line x1="1185" y1="1019.8" x2="1188" y2="1028"/>
<line x1="1141.5" y1="1025.7" x2="1190" y2="1027.4"/>
<line x1="1185.7" y1="1027.2" x2="1189.8" y2="1035"/>
<line x1="1141.5" y1="1037.5" x2="1189.9" y2="1040.5"/>
<line x1="1185.6" y1="1040.3" x2="1189.5" y2="1048.2"/>
<line x1="1141.5" y1="1050.3" x2="1189.7" y2="1055.5"/>
<line x1="1185.4" y1="1055.1" x2="1189" y2="1063.1"/>
<line x1="1141.5" y1="1062.5" x2="1189" y2="1072.4"/>
<line x1="1184.8" y1="1071.5" x2="1187.5" y2="1079.9"/>
<line x1="1141.5" y1="1074.5" x2="1187.7" y2="1089.4"/>
<line x1="1183.6" y1="1088.1" x2="1185.4" y2="1096.7"/>
<line x1="1141.5" y1="1085.4" x2="1185.6" y2="1105.7"/>
<line x1="1181.7" y1="1103.9" x2="1182.5" y2="1112.6"/>
<line x1="1141.5" y1="1096.3" x2="1183.1" y2="1121.2"/>
<line x1="1179.4" y1="1119" x2="1179.3" y2="1127.8"/>
<line x1="1141.5" y1="1107.2" x2="1179.5" y2="1137.3"/>
<line x1="1176.1" y1="1134.7" x2="1174.9" y2="1143.4"/>
<line x1="1141.5" y1="1118.9" x2="1176.1" y2="1152.9"/>
<line x1="1173" y1="1149.9" x2="1170.8" y2="1158.4"/>
<line x1="1141.5" y1="1128.9" x2="1170.8" y2="1167.5"/>
<line x1="1168.2" y1="1164.1" x2="1164.8" y2="1172.2"/>
<line x1="1141.5" y1="1139.1" x2="1166" y2="1180.9"/>
<line x1="1163.9" y1="1177.2" x2="1159.5" y2="1184.9"/>
<line x1="1141.5" y1="1150" x2="1162.9" y2="1193.5"/>
<line x1="1161" y1="1189.7" x2="1156.1" y2="1197"/>
<line x1="1141.5" y1="1160.3" x2="1158.6" y2="1205.7"/>
<line x1="1157.1" y1="1201.7" x2="1151.5" y2="1208.5"/>
<line x1="1141.5" y1="1169.4" x2="1155.7" y2="1215.8"/>
<line x1="1154.4" y1="1211.7" x2="1148.4" y2="1218.1"/>
<line x1="1141.5" y1="1177" x2="1152.6" y2="1224.2"/>
<line x1="1151.6" y1="1220" x2="1145.2" y2="1226.1"/>
<line x1="1141.5" y1="1182" x2="1150.6" y2="1229.6"/>
<line x1="1149.8" y1="1225.4" x2="1143.1" y2="1231.2"/>
<line x1="1141.5" y1="1185.5" x2="1148.4" y2="1233.5"/>
<line x1="1147.8" y1="1229.2" x2="1140.9" y2="1234.7"/>
<line x1="1141.5" y1="1187.7" x2="1147.4" y2="1235.8"/>
<line x1="1146.9" y1="1231.6" x2="1139.9" y2="1236.9"/>
<line x1="1138.9" y1="1235.7" x2="1146.9" y2="1228.9"/>
<ellipse cx="1144" cy="1230.6" rx="2.6" ry="1.6" transform="rotate(-40 1144 1230.6)"/>
</g>
<polyline points="1212.5,154.4 1199.6,211.8 1197.6,263.7 1198.9,310 1198.9,356.3 1196.3,387.1 1193.7,433.4 1190.6,490 1186,549.1 1179.6,626.3 1173.1,700.9 1166.7,752.3 1161.6,796 1156.4,824.6 1152.3,849.3 1151,865.7 1151.5,878.9 1153.9,901.9 1158,924.9 1162.1,939.6 1166.2,954.4 1168.7,970.9 1168.7,982.4 1162.1,1002.1 1159.4,1012.6 1156,1026.3 1154.3,1038.9 1153.1,1052.6 1151.8,1074.3 1151.4,1091.4 1151.7,1114.3 1152.6,1131.4 1153.7,1148.6 1154.3,1158 1156.6,1178.6 1155.4,1187.7" fill="none" stroke="#1fb41f" stroke-width="1" shape-rendering="crispEdges"/>
<g stroke="#000" shape-rendering="crispEdges">
<line x1="1287" y1="104" x2="1287" y2="1294.5" stroke-width="2"/>
<line x1="1287" y1="1264.6" x2="1302" y2="1264.6" stroke-width="1"/>
<line x1="1287" y1="1204" x2="1302" y2="1204" stroke-width="1"/>
<line x1="1287" y1="1142" x2="1302" y2="1142" stroke-width="1"/>
<line x1="1287" y1="1081" x2="1302" y2="1081" stroke-width="1"/>
<line x1="1287" y1="1018" x2="1302" y2="1018" stroke-width="1"/>
<line x1="1287" y1="954" x2="1302" y2="954" stroke-width="1"/>
<line x1="1287" y1="889" x2="1302" y2="889" stroke-width="1"/>
<line x1="1287" y1="823" x2="1302" y2="823" stroke-width="1"/>
<line x1="1287" y1="756" x2="1302" y2="756" stroke-width="1"/>
<line x1="1287" y1="688" x2="1302" y2="688" stroke-width="1"/>
<line x1="1287" y1="620" x2="1302" y2="620" stroke-width="1"/>
<line x1="1287" y1="550" x2="1302" y2="550" stroke-width="1"/>
<line x1="1287" y1="479" x2="1302" y2="479" stroke-width="1"/>
<line x1="1287" y1="406" x2="1302" y2="406" stroke-width="1"/>
<line x1="1287" y1="332" x2="1302" y2="332" stroke-width="1"/>
<line x1="1287" y1="258" x2="1302" y2="258" stroke-width="1"/>
<line x1="1287" y1="181" x2="1302" y2="181" stroke-width="1"/>
</g>
<g font-size="26.3" text-anchor="start" fill="#000" stroke="#000" stroke-width="0.8">
<text x="1318.6" y="1275.3">0</text>
<text x="1318.6" y="1214.7">2</text>
<text x="1318.6" y="1152.7">4</text>
<text x="1318.6" y="1091.7">6</text>
<text x="1318.6" y="1028.7">8</text>
<text x="1318.6" y="964.7">10</text>
<text x="1318.6" y="899.7">12</text>
<text x="1318.6" y="833.7">14</text>
<text x="1318.6" y="766.7">16</text>
<text x="1318.6" y="698.7">18</text>
<text x="1318.6" y="630.7">20</text>
<text x="1318.6" y="560.7">22</text>
<text x="1318.6" y="489.7">24</text>
<text x="1318.6" y="416.7">26</text>
<text x="1318.6" y="342.7">28</text>
<text x="1318.6" y="268.7">30</text>
<text x="1318.6" y="191.7">32</text>
</g>
<g stroke="#000" stroke-width="1" shape-rendering="crispEdges">
<line x1="145.1" y1="1294" x2="145.1" y2="1308.5"/>
<line x1="276.1" y1="1294" x2="276.1" y2="1308.5"/>
<line x1="407" y1="1294" x2="407" y2="1308.5"/>
<line x1="538" y1="1294" x2="538" y2="1308.5"/>
<line x1="669" y1="1294" x2="669" y2="1308.5"/>
<line x1="799.9" y1="1294" x2="799.9" y2="1308.5"/>
<line x1="930.9" y1="1294" x2="930.9" y2="1308.5"/>
<line x1="1061.8" y1="1294" x2="1061.8" y2="1308.5"/>
</g>
<text x="46.5" y="71.3" font-size="33.5" fill="#000" stroke="#000" stroke-width="0.8" text-anchor="start" textLength="227.5" lengthAdjust="spacingAndGlyphs">#8: TouwsRiver</text>
<text x="283.5" y="67.3" font-size="18.8" fill="#000" stroke="#000" stroke-width="0.8" text-anchor="start" textLength="244.5" lengthAdjust="spacingAndGlyphs">-33.3308&#176;,20.0256&#176; (57,46)</text>
<text x="556" y="71.3" font-size="33.5" fill="#000" stroke="#000" stroke-width="0.8" text-anchor="start" textLength="224.5" lengthAdjust="spacingAndGlyphs">Valid 1400 LST</text>
<text x="788.5" y="67.7" font-size="23.2" fill="#000" stroke="#000" stroke-width="0.8" text-anchor="start" textLength="84" lengthAdjust="spacingAndGlyphs">(1200Z)</text>
<text x="883" y="71.3" font-size="33.5" fill="#000" stroke="#000" stroke-width="0.8" text-anchor="start" textLength="246.5" lengthAdjust="spacingAndGlyphs">SUN 24 Jul 2016</text>
<text x="1138.6" y="67.6" font-size="23.5" fill="#000" stroke="#000" stroke-width="0.8" text-anchor="start" textLength="200.5" lengthAdjust="spacingAndGlyphs">[12hrFcst@0354z]</text>
<text x="465.5" y="98.7" font-size="19.5" fill="#a5003c" stroke="#a5003c" stroke-width="0.85" text-anchor="start" textLength="457.5" lengthAdjust="spacingAndGlyphs">Plcl=764 Tlcl[C]=-5 Shox=5 Pwat[cm]=1 Cape[J]= 44</text>
<text x="97.9" y="100.4" font-size="19.5" fill="#11aa11" stroke="#11aa11" stroke-width="0.8" text-anchor="middle">0.0</text>
<text x="97.9" y="124" font-size="19.5" fill="#000" stroke="#000" stroke-width="0.8" text-anchor="middle">0.0</text>
<text x="97.9" y="1292" font-size="19.5" fill="#11aa11" stroke="#11aa11" stroke-width="0.8" text-anchor="middle">0.0</text>
<text x="97.9" y="1314.5" font-size="19.5" fill="#000" stroke="#000" stroke-width="0.8" text-anchor="middle">0.0</text>
<text x="146.4" y="100.4" font-size="19.5" fill="#11aa11" stroke="#11aa11" stroke-width="0.8" text-anchor="middle">0.5</text>
<text x="146.4" y="124" font-size="19.5" fill="#000" stroke="#000" stroke-width="0.8" text-anchor="middle">0.5</text>
<text x="146.4" y="1292" font-size="19.5" fill="#11aa11" stroke="#11aa11" stroke-width="0.8" text-anchor="middle">0.5</text>
<text x="146.4" y="1314.5" font-size="19.5" fill="#000" stroke="#000" stroke-width="0.8" text-anchor="middle">0.5</text>
<text x="195" y="100.4" font-size="19.5" fill="#11aa11" stroke="#11aa11" stroke-width="0.8" text-anchor="middle">1.0</text>
<text x="195" y="124" font-size="19.5" fill="#000" stroke="#000" stroke-width="0.8" text-anchor="middle">1.0</text>
<text x="195" y="1292" font-size="19.5" fill="#11aa11" stroke="#11aa11" stroke-width="0.8" text-anchor="middle">1.0</text>
<text x="195" y="1314.5" font-size="19.5" fill="#000" stroke="#000" stroke-width="0.8" text-anchor="middle">1.0</text>
<text x="219.5" y="1292" font-size="19.5" fill="#11aa11" stroke="#11aa11" stroke-width="0.8" text-anchor="start" textLength="161" lengthAdjust="spacingAndGlyphs">CloudWater (g/Kg)</text>
<text x="219.5" y="1314.5" font-size="19.5" fill="#000" stroke="#000" stroke-width="0.8" text-anchor="start" textLength="195.5" lengthAdjust="spacingAndGlyphs">Grid-Scale Cloudiness</text>
<text x="80" y="115.5" font-size="27.6" fill="#000" stroke="#000" stroke-width="0.8" text-anchor="end">250</text>
<text x="80" y="266" font-size="27.6" fill="#000" stroke="#000" stroke-width="0.8" text-anchor="end">300</text>
<text x="80" y="504" font-size="27.6" fill="#000" stroke="#000" stroke-width="0.8" text-anchor="end">400</text>
<text x="80" y="690" font-size="27.6" fill="#000" stroke="#000" stroke-width="0.8" text-anchor="end">500</text>
<text x="80" y="968.5" font-size="27.6" fill="#000" stroke="#000" stroke-width="0.8" text-anchor="end">700</text>
<text x="80" y="1129" font-size="27.6" fill="#000" stroke="#000" stroke-width="0.8" text-anchor="end">850</text>
<text x="80" y="1263.5" font-size="27.6" fill="#000" stroke="#000" stroke-width="0.8" text-anchor="end">1000</text>
<text transform="translate(31 728) rotate(-90)" font-size="26.5" text-anchor="middle" stroke="#000" stroke-width="0.8" textLength="78" lengthAdjust="spacingAndGlyphs">P (hPa)</text>
<text x="142.9" y="1347.3" font-size="26.5" fill="#000" stroke="#000" stroke-width="0.8" text-anchor="middle">-30</text>
<text x="273.9" y="1347.3" font-size="26.5" fill="#000" stroke="#000" stroke-width="0.8" text-anchor="middle">-20</text>
<text x="404.8" y="1347.3" font-size="26.5" fill="#000" stroke="#000" stroke-width="0.8" text-anchor="middle">-10</text>
<text x="538" y="1347.3" font-size="26.5" fill="#000" stroke="#000" stroke-width="0.8" text-anchor="middle">0</text>
<text x="669" y="1347.3" font-size="26.5" fill="#000" stroke="#000" stroke-width="0.8" text-anchor="middle">10</text>
<text x="799.9" y="1347.3" font-size="26.5" fill="#000" stroke="#000" stroke-width="0.8" text-anchor="middle">20</text>
<text x="930.9" y="1347.3" font-size="26.5" fill="#000" stroke="#000" stroke-width="0.8" text-anchor="middle">30</text>
<text x="1061.8" y="1347.3" font-size="26.5" fill="#000" stroke="#000" stroke-width="0.8" text-anchor="middle">40</text>
<text x="604" y="1380" font-size="24.5" fill="#000" stroke="#000" stroke-width="0.8" text-anchor="start" textLength="177.5" lengthAdjust="spacingAndGlyphs">Temperature (C)</text>
<text x="1142" y="125.9" font-size="19.3" fill="#11aa11" stroke="#11aa11" stroke-width="0.8" text-anchor="middle">0</text>
<text x="1142" y="1293" font-size="19.3" fill="#11aa11" stroke="#11aa11" stroke-width="0.8" text-anchor="middle">0</text>
<text x="1214.5" y="125.9" font-size="19.3" fill="#11aa11" stroke="#11aa11" stroke-width="0.8" text-anchor="middle">20</text>
<text x="1214.5" y="1293" font-size="19.3" fill="#11aa11" stroke="#11aa11" stroke-width="0.8" text-anchor="middle">20</text>
<text x="1287.6" y="125.9" font-size="19.3" fill="#11aa11" stroke="#11aa11" stroke-width="0.8" text-anchor="middle">40</text>
<text x="1287.6" y="1293" font-size="19.3" fill="#11aa11" stroke="#11aa11" stroke-width="0.8" text-anchor="middle">40</text>
<text x="1359.5" y="125.9" font-size="19.3" fill="#11aa11" stroke="#11aa11" stroke-width="0.8" text-anchor="middle">60</text>
<text x="1359.5" y="1293" font-size="19.3" fill="#11aa11" stroke="#11aa11" stroke-width="0.8" text-anchor="middle">60</text>
<text x="1172" y="1314.5" font-size="19.5" fill="#11aa11" stroke="#11aa11" stroke-width="0.8" text-anchor="start" textLength="91" lengthAdjust="spacingAndGlyphs">Speed (kt)</text>
<text transform="translate(1239 700) rotate(90)" font-size="29" text-anchor="middle" stroke="#000" stroke-width="0.8" textLength="221" lengthAdjust="spacingAndGlyphs">Height (1000 Feet)</text>
</svg>
</body></html>
